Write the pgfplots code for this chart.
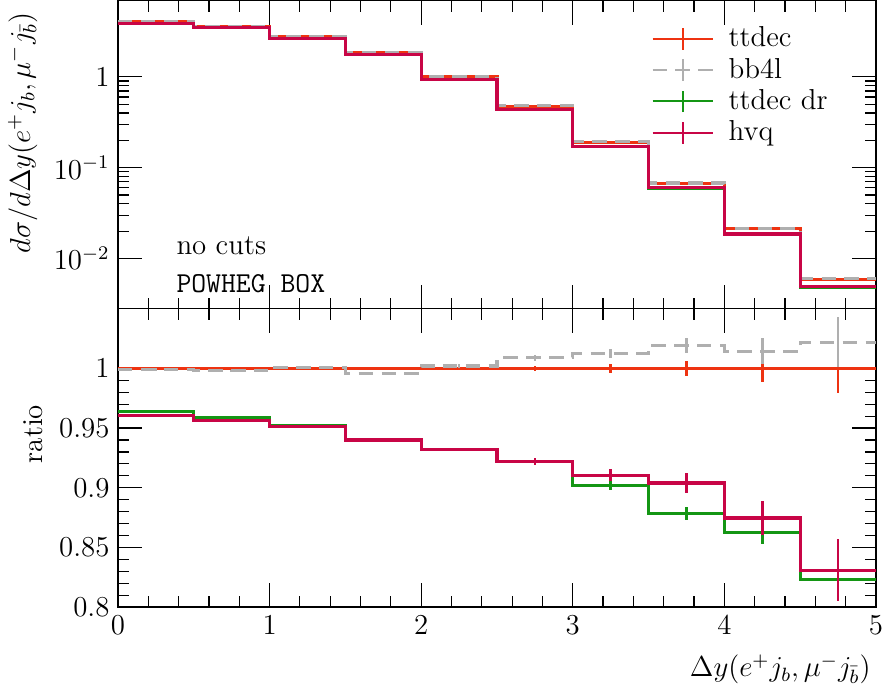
\documentclass[border=0pt]{standalone}
\usepackage{pgfplots}
\pgfplotsset{compat=1.18}
\definecolor{cttdec}{RGB}{238,51,17}
\definecolor{cbb}{RGB}{175,175,175}
\definecolor{cdr}{RGB}{20,150,20}
\definecolor{chvq}{RGB}{200,5,70}
\pgfplotsset{
  common/.style={
    scale only axis, width=315pt,
    xmin=0, xmax=5, xtick={0,1,2,3,4,5}, minor x tick num=4,
    tick align=inside, major tick length=10pt, minor tick length=4.5pt,
    axis line style={line width=0.6pt},
    every tick/.style={black, line width=0.5pt},
    tick label style={font=\large},
    xticklabel style={inner xsep=0pt},
    label style={font=\large},
  },
  hist/.style={const plot, line width=1.3pt, mark=none},
  ebar/.style={draw=none, mark=none, error bars/.cd, y dir=both, y explicit, error mark=none,
    error bar style={draw=#1, line width=1.1pt, solid}},
  legend image code/.code={%
    \draw[#1, line width=0.9pt] (0pt,0pt) -- (25pt,0pt);
    \draw[#1, line width=0.9pt, solid] (12.5pt,-4.5pt) -- (12.5pt,4.5pt);
    \path (29pt,0pt);},
}
\begin{document}
\begin{tikzpicture}
\begin{axis}[common, name=top, height=128pt,
  ymode=log, ymin=0.0028, ymax=6.9,
  ytick={0.01,0.1,1}, yticklabels={$10^{-2}$,$10^{-1}$,$1$},
  xticklabels={},
  ylabel={$d\sigma/d\Delta y(e^{+}j_{b},\mu^{-}j_{\bar{b}})$},
  ylabel style={at={(ticklabel cs:0.99)}, anchor=south east},
  legend style={at={(axis description cs:0.70,0.94)}, anchor=north west, draw=none, fill=none,
    row sep=-0.8pt, font=\large, inner sep=1pt},
  legend cell align=left,
]
\addplot[hist, cttdec] coordinates {(0,4.03)(0.5,3.62)(1,2.79)(1.5,1.87)(2,1.01)(2.5,0.475)(3,0.190)(3.5,0.0665)(4,0.0213)(4.5,0.0059)(5,0.0059)};
\addlegendentry{ttdec}
\addplot[hist, cbb, dash pattern=on 6pt off 3.5pt] coordinates {(0,4.026)(0.5,3.613)(1,2.793)(1.5,1.863)(2,1.012)(2.5,0.479)(3,0.1923)(3.5,0.0678)(4,0.0216)(4.5,0.00603)(5,0.00603)};
\addlegendentry{bb4l}
\addplot[hist, cdr] coordinates {(0,3.884)(0.5,3.471)(1,2.657)(1.5,1.758)(2,0.941)(2.5,0.438)(3,0.1714)(3.5,0.0584)(4,0.01838)(4.5,0.00486)(5,0.00486)};
\addlegendentry{ttdec dr}
\addplot[hist, chvq] coordinates {(0,3.870)(0.5,3.461)(1,2.653)(1.5,1.758)(2,0.941)(2.5,0.438)(3,0.173)(3.5,0.0601)(4,0.01863)(4.5,0.00490)(5,0.00490)};
\addlegendentry{hvq}
\node[anchor=west, font=\large] at (axis description cs:0.066,0.205) {no cuts};
\node[anchor=west, font=\large] at (axis description cs:0.066,0.08) {\texttt{POWHEG BOX}};
\end{axis}
\begin{axis}[common, at={(top.south west)}, anchor=north west, height=124pt,
  ymin=0.8, ymax=1.05,
  ytick={0.8,0.85,0.9,0.95,1}, yticklabels={0.8,0.85,0.9,0.95,1},
  minor y tick num=4,
  ylabel={ratio},
  ylabel style={at={(ticklabel cs:0.58)}},
  xlabel={$\Delta y(e^{+}j_{b},\mu^{-}j_{\bar{b}})$},
  xlabel style={at={(ticklabel cs:1)}, anchor=north east, inner sep=2pt, yshift=-3pt},
]
\addplot[hist, cttdec] coordinates {(0,1)(0.5,1)(1,1)(1.5,1)(2,1)(2.5,1)(3,1)(3.5,1)(4,1)(4.5,1)(5,1)};
\addplot[ebar=cttdec] coordinates {(0.25,1)+-(0,0.0007)(0.75,1)+-(0,0.0008)(1.25,1)+-(0,0.0009)(1.75,1)+-(0,0.001)(2.25,1)+-(0,0.0013)(2.75,1)+-(0,0.0022)(3.25,1)+-(0,0.0038)(3.75,1)+-(0,0.0063)(4.25,1)+-(0,0.0112)(4.75,1)+-(0,0.0205)};
\addplot[hist, cbb, dash pattern=on 6pt off 3.5pt] coordinates {(0,0.999)(0.5,0.998)(1,1.001)(1.5,0.996)(2,1.002)(2.5,1.0088)(3,1.0123)(3.5,1.019)(4,1.0145)(4.5,1.022)(5,1.022)};
\addplot[ebar=cbb] coordinates {(0.25,0.999)+-(0,0.001)(0.75,0.998)+-(0,0.001)(1.25,1.001)+-(0,0.0012)(1.75,0.996)+-(0,0.0013)(2.25,1.002)+-(0,0.0016)(2.75,1.0088)+-(0,0.0027)(3.25,1.0123)+-(0,0.004)(3.75,1.019)+-(0,0.0065)(4.25,1.0145)+-(0,0.011)(4.75,1.022)+-(0,0.021)};
\addplot[hist, cdr] coordinates {(0,0.9637)(0.5,0.9588)(1,0.9525)(1.5,0.940)(2,0.932)(2.5,0.922)(3,0.902)(3.5,0.8784)(4,0.8628)(4.5,0.823)(5,0.823)};
\addplot[ebar=cdr] coordinates {(0.25,0.9637)+-(0,0.0007)(0.75,0.9588)+-(0,0.0008)(1.25,0.9525)+-(0,0.0009)(1.75,0.940)+-(0,0.001)(2.25,0.932)+-(0,0.0013)(2.75,0.922)+-(0,0.002)(3.25,0.902)+-(0,0.0035)(3.75,0.8784)+-(0,0.0057)(4.25,0.8628)+-(0,0.01)(4.75,0.823)+-(0,0.018)};
\addplot[hist, chvq] coordinates {(0,0.9604)(0.5,0.956)(1,0.951)(1.5,0.940)(2,0.932)(2.5,0.922)(3,0.9104)(3.5,0.904)(4,0.8746)(4.5,0.831)(5,0.831)};
\addplot[ebar=chvq] coordinates {(0.25,0.9604)+-(0,0.0008)(0.75,0.956)+-(0,0.0009)(1.25,0.951)+-(0,0.001)(1.75,0.940)+-(0,0.0012)(2.25,0.932)+-(0,0.0016)(2.75,0.922)+-(0,0.003)(3.25,0.9104)+-(0,0.005)(3.75,0.904)+-(0,0.0086)(4.25,0.8746)+-(0,0.0143)(4.75,0.831)+-(0,0.0257)};
\end{axis}
\end{tikzpicture}
\end{document}
